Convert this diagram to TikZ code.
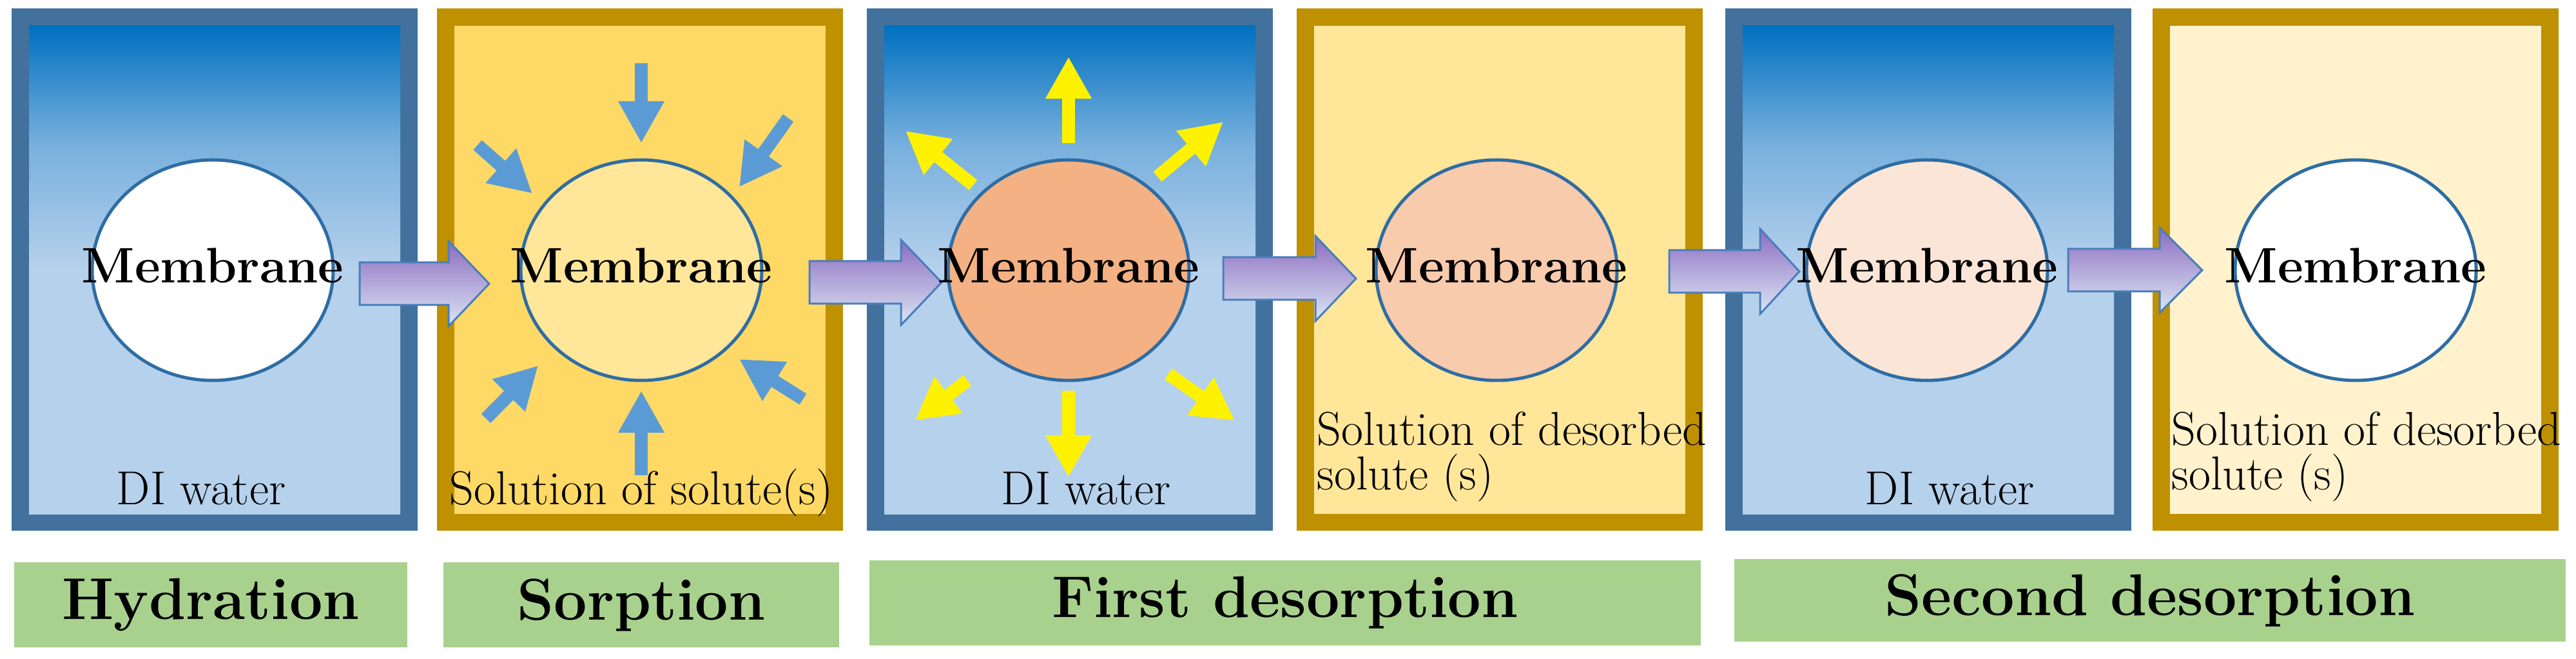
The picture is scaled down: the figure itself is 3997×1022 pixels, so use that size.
\documentclass[tikz,border=0pt]{standalone}
\usetikzlibrary{arrows.meta,shapes.geometric,calc}
\definecolor{bbord}{HTML}{41719C}
\definecolor{gbord}{HTML}{BF9000}
\definecolor{darkb}{HTML}{0070C0}
\definecolor{lightb}{HTML}{B6D1EC}
\definecolor{gold1}{HTML}{FFD966}
\definecolor{gold2}{HTML}{FFE699}
\definecolor{gold3}{HTML}{FFF2CC}
\definecolor{mem2}{HTML}{FFE699}
\definecolor{mem3}{HTML}{F4B183}
\definecolor{mem4}{HTML}{F8CBAD}
\definecolor{mem5}{HTML}{FBE5D6}
\definecolor{memline}{HTML}{2E6DA4}
\definecolor{sblue}{HTML}{5B9BD5}
\definecolor{green1}{HTML}{A9D18E}
\definecolor{arrtop}{HTML}{8B6CC0}
\definecolor{arrbot}{HTML}{DCE6F4}
\definecolor{arrline}{HTML}{4A7EBB}
\pgfdeclareverticalshading{bluesh}{100bp}{color(0bp)=(lightb); color(50bp)=(lightb); color(63bp)=(lightb!65!darkb); color(75bp)=(darkb); color(100bp)=(darkb)}
\tikzset{
  memtxt/.style={inner sep=0pt,font=\fontsize{22}{24}\selectfont\bfseries},
  memell/.style={draw=memline,line width=0.05cm},
  lab/.style={inner sep=0pt,font=\fontsize{21}{23}\selectfont},
  stage/.style={fill=green1,draw=none,inner sep=0pt,font=\fontsize{26}{28}\selectfont\bfseries},
  sarr/.style={draw=sblue,line width=0.2cm,-{Triangle[length=0.65cm,width=0.67cm]}},
  yarr/.style={draw=yellow,line width=0.2cm,-{Triangle[length=0.65cm,width=0.67cm]}},
  big/.style={draw=arrline,line width=0.03cm,top color=arrtop,bottom color=arrbot}
}
\begin{document}
\begin{tikzpicture}[x=0.01cm,y=-0.01cm]
\useasboundingbox (0,0) rectangle (3997,1022);
% panels
\foreach \x/\bc in {18/bbord,678/gbord,1345/bbord,2012/gbord,2677/bbord,3340/gbord}{
  \fill[\bc] (\x,13) rectangle ++(630,810);
}
\foreach \x in {18,1345,2677}{ \shade[shading=bluesh] (\x+27,40) rectangle ++(576,757); }
\fill[gold1] (678+27,40) rectangle ++(576,757);
\fill[gold2] (2012+27,40) rectangle ++(576,757);
\fill[gold3] (3340+27,40) rectangle ++(576,757);
% big arrows
\foreach \s/\h/\e/\c in {558/696/759/440,1256/1398/1461/438,1898/2041/2104/432,2590/2731/2792/421,3209/3351/3417/419}{
  \draw[big] (\s,\c-33) -- (\h,\c-33) -- (\h,\c-66) -- (\e,\c) -- (\h,\c+66) -- (\h,\c+33) -- (\s,\c+33) -- cycle;
}
% membranes
\foreach \cx/\fc [count=\i] in {330/white,995/mem2,1658/mem3,2322/mem4,2990/mem5,3655/white}{
  \filldraw[memell,fill=\fc] (\cx,419) ellipse [x radius=187, y radius=171];
  \node[memtxt] (m\i) at (\cx,412) {Membrane};
}
% sorption arrows
\foreach \ax/\ay/\bx/\by in {0/-314/0/-190, 0/325/0/194, -254/-187/-169/-112, 228/-229/152/-122, -241/237/-160/155, 251/207/152/145}{
  \draw[sarr] ($(m2.center)+(\ax,\ay)$) -- ($(m2.center)+(\bx,\by)$);
}
% desorption arrows
\foreach \ax/\ay/\bx/\by in {0/-190/0/-324, 0/194/0/328, -148/-125/-253/-209, 138/-138/240/-223, -157/178/-238/240, 155/168/258/240}{
  \draw[yarr] ($(m3.center)+(\ax,\ay)$) -- ($(m3.center)+(\bx,\by)$);
}
% texts
\node[lab,anchor=base] (t1) at (312,782) {DI water};
\node[lab,anchor=base] (t2) at (995,782) {Solution of solute(s)};
\node[lab,anchor=base] (t3) at (1685,782) {DI water};
\node[lab,anchor=base west] (t4a) at (2043,691) {Solution of desorbed};
\node[lab,anchor=base west] (t4b) at (2043,759) {solute (s)};
\node[lab,anchor=base] (t5) at (3025,782) {DI water};
\node[lab,anchor=base west] (t6a) at (3369,691) {Solution of desorbed};
\node[lab,anchor=base west] (t6b) at (3369,759) {solute (s)};
% stages
\node[stage,minimum width=6.1cm,minimum height=1.31cm] (s1) at (327,938) {Hydration};
\node[stage,minimum width=6.14cm,minimum height=1.31cm] (s2) at (995,938) {Sorption};
\node[stage,minimum width=12.9cm,minimum height=1.31cm] (s3) at (1994,935) {First desorption};
\node[stage,minimum width=12.9cm,minimum height=1.27cm] (s4) at (3336,931) {Second desorption};
\end{tikzpicture}
\end{document}
